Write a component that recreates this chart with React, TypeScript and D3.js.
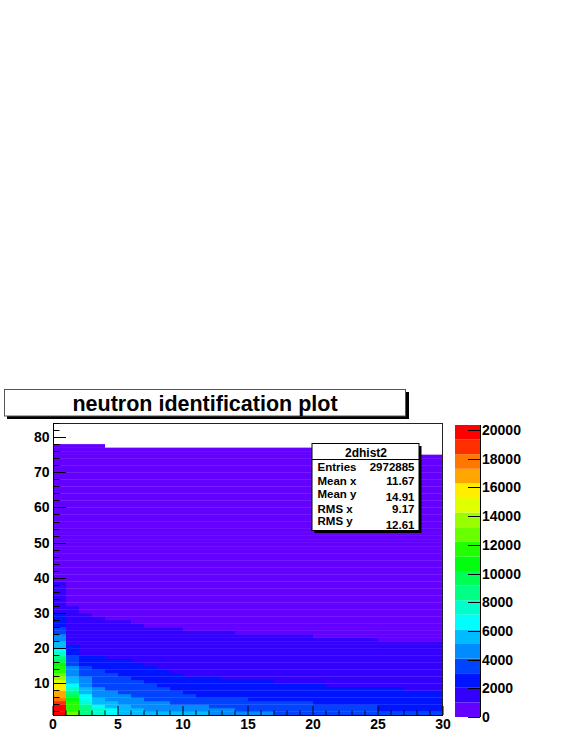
import React from 'react';
import * as d3 from 'd3';

// bin contents per x column (x = 0..29), as runs of [content, upper y edge], starting at y = 1
const columnRuns: [number, number][][] = [
  [[20350, 2], [19900, 3], [19600, 4], [18500, 5], [17500, 6], [16500, 8], [15500, 10], [14500, 11], [13500, 12], [12500, 13], [11500, 15], [10500, 16], [9500, 17], [8500, 18], [7500, 19], [6500, 20], [5500, 22], [4500, 24], [3500, 26], [2500, 30], [1500, 39], [500, 78]],
  [[12500, 2], [11500, 5], [10500, 6], [9500, 7], [8500, 8], [7500, 9], [6500, 10], [5500, 12], [4500, 15], [3500, 18], [2500, 21], [1500, 32], [500, 78]],
  [[8500, 4], [7500, 5], [6500, 7], [5500, 9], [4500, 12], [3500, 15], [2500, 18], [1500, 30], [500, 78]],
  [[7500, 3], [6500, 4], [5500, 6], [4500, 9], [3500, 14], [2500, 18], [1500, 29], [500, 78]],
  [[6500, 3], [5500, 5], [4500, 8], [3500, 13], [2500, 17], [1500, 28], [500, 77]],
  [[5500, 4], [4500, 7], [3500, 12], [2500, 17], [1500, 28], [500, 77]],
  [[5500, 3], [4500, 6], [3500, 11], [2500, 16], [1500, 27], [500, 77]],
  [[5500, 2], [4500, 5], [3500, 10], [2500, 15], [1500, 26], [500, 77]],
  [[5500, 2], [4500, 5], [3500, 9], [2500, 14], [1500, 26], [500, 77]],
  [[5500, 2], [4500, 4], [3500, 8], [2500, 13], [1500, 26], [500, 77]],
  [[5500, 2], [4500, 4], [3500, 7], [2500, 12], [1500, 25], [500, 77]],
  [[5500, 2], [4500, 4], [3500, 6], [2500, 12], [1500, 25], [500, 77]],
  [[4500, 3], [3500, 6], [2500, 12], [1500, 25], [500, 77]],
  [[4500, 3], [3500, 6], [2500, 11], [1500, 25], [500, 77]],
  [[4500, 2], [3500, 6], [2500, 11], [1500, 24], [500, 77]],
  [[4500, 2], [3500, 5], [2500, 11], [1500, 24], [500, 77]],
  [[4500, 2], [3500, 5], [2500, 11], [1500, 24], [500, 77]],
  [[3500, 5], [2500, 10], [1500, 24], [500, 77]],
  [[3500, 5], [2500, 10], [1500, 24], [500, 77]],
  [[3500, 5], [2500, 10], [1500, 24], [500, 77]],
  [[3500, 4], [2500, 10], [1500, 23], [500, 77]],
  [[3500, 4], [2500, 9], [1500, 23], [500, 77]],
  [[3500, 4], [2500, 9], [1500, 23], [500, 77]],
  [[3500, 4], [2500, 9], [1500, 23], [500, 77]],
  [[3500, 4], [2500, 9], [1500, 23], [500, 77]],
  [[3500, 2], [2500, 9], [1500, 22], [500, 77]],
  [[3500, 2], [2500, 9], [1500, 22], [500, 77]],
  [[3500, 2], [2500, 8], [1500, 22], [500, 77]],
  [[3500, 2], [2500, 8], [1500, 22], [500, 75]],
  [[3500, 2], [2500, 8], [1500, 22], [500, 75]],
];

// ROOT "pretty" palette, 20 contour levels
const paletteColors = [
  '#6300ff', '#3300ff', '#0014ff', '#0044ff', '#008bff',
  '#00bbff', '#00fffc', '#00ffcc', '#00ff85', '#00ff55',
  '#00ff0e', '#22ff00', '#69ff00', '#99ff00', '#e0ff00',
  '#ffee00', '#ffa700', '#ff7700', '#ff3000', '#ff0000',
];

const xTicks = [0, 5, 10, 15, 20, 25, 30];
const yTicks = [10, 20, 30, 40, 50, 60, 70, 80];
const zTicks = [0, 2000, 4000, 6000, 8000, 10000, 12000, 14000, 16000, 18000, 20000];

const title = 'neutron identification plot';
const statsName = '2dhist2';
const statsLabels = ['Entries', 'Mean x', 'Mean y', 'RMS x', 'RMS y'];
const statsValues = ['2972885', '11.67', '14.91', '9.17', '12.61'];

const font = "'Liberation Sans', Arial, Helvetica, sans-serif";

export default function App() {
  const width = 581;
  const height = 752;

  const xScale = d3.scaleLinear().domain([0, 30]).range([53, 443]);
  const yScale = d3.scaleLinear().domain([1, 84]).range([715, 423]);

  // expand runs into single bins
  const cells: { x: number; y: number; v: number }[] = [];
  columnRuns.forEach((runs, i) => {
    let y = 1;
    runs.forEach(([v, top]) => {
      for (; y < top; y++) cells.push({ x: i, y, v });
    });
  });

  const zMax = d3.max(cells, d => d.v) as number;
  const nLevels = paletteColors.length;
  const zScale = d3.scaleLinear().domain([0, zMax]).range([717, 425]);
  const colorOf = (v: number) =>
    paletteColors[Math.min(nLevels - 1, Math.floor((v / zMax) * nLevels))];

  const levels = d3.range(nLevels).map(k => ({
    lo: (k * zMax) / nLevels,
    hi: ((k + 1) * zMax) / nLevels,
    color: paletteColors[k],
  }));

  const xMinor = d3.range(0, 31, 1);
  const yMinor = d3.range(2, 85, 2);

  // stats rows: lines holding a "y" sit a little higher in ROOT
  const statsLabelY = [470.5, 485, 497.5, 513, 525];
  const statsValueY = [470.5, 485, 500.5, 513, 529];

  return (
    <svg
      width={width}
      height={height}
      style={{ position: 'absolute', left: 0, top: 0, background: '#fff' }}
      fontFamily={font}
      fontWeight="bold"
    >
      {/* histogram cells, slightly overlapped so only faint seams remain */}
      <g>
        {cells.map((c, k) => (
          <rect
            key={k}
            x={xScale(c.x)}
            y={yScale(c.y + 1)}
            width={xScale(c.x + 1) - xScale(c.x)}
            height={yScale(c.y) - yScale(c.y + 1) + (c.y > 1 ? 0.3 : 0)}
            fill={colorOf(c.v)}
          />
        ))}
      </g>

      {/* frame */}
      <line x1={53} x2={443} y1={423.5} y2={423.5} stroke="#222" />
      <line x1={442.5} x2={442.5} y1={423} y2={715} stroke="#222" />
      <line x1={53.5} x2={53.5} y1={423} y2={716} stroke="#000" />
      <line x1={53} x2={443} y1={715.5} y2={715.5} stroke="#000" />

      {/* x axis ticks */}
      {xMinor.map(t => (
        <line
          key={'xm' + t}
          x1={xScale(t)}
          x2={xScale(t)}
          y1={715}
          y2={xTicks.includes(t) ? 706 : 710.5}
          stroke="#000"
        />
      ))}
      {xTicks.map(t => (
        <text key={'xl' + t} x={xScale(t)} y={729} fontSize={14} textAnchor="middle">
          {t}
        </text>
      ))}

      {/* y axis ticks */}
      {yMinor.map(t => (
        <line
          key={'ym' + t}
          x1={53}
          x2={yTicks.includes(t) ? 66 : 59.5}
          y1={Math.round(yScale(t)) + 0.5}
          y2={Math.round(yScale(t)) + 0.5}
          stroke="#000"
        />
      ))}
      {yTicks.map(t => (
        <text key={'yl' + t} x={49.5} y={yScale(t) + 5} fontSize={14} textAnchor="end">
          {t}
        </text>
      ))}

      {/* palette */}
      {levels.map((l, k) => (
        <rect
          key={'p' + k}
          x={455}
          y={zScale(l.hi)}
          width={25}
          height={zScale(l.lo) - zScale(l.hi)}
          fill={l.color}
        />
      ))}
      <line x1={480.5} x2={480.5} y1={425} y2={717} stroke="#000" />
      {zTicks.map(t => (
        <g key={'z' + t}>
          <line
            x1={468}
            x2={480}
            y1={Math.round(zScale(t)) + 0.5}
            y2={Math.round(zScale(t)) + 0.5}
            stroke="#000"
          />
          <text x={482} y={zScale(t) + 5} fontSize={14}>
            {t}
          </text>
        </g>
      ))}

      {/* title box */}
      <rect x={7} y={392} width={402} height={27} fill="#000" />
      <rect x={4.5} y={389.5} width={401} height={26.5} fill="#fff" stroke="#555" />
      <text x={205} y={410.5} fontSize={21.5} textAnchor="middle">
        {title}
      </text>

      {/* stats box */}
      <rect x={314.5} y={446} width={107} height={87} fill="#000" />
      <rect x={312} y={443.5} width={107} height={87} fill="#fff" stroke="#000" />
      <line x1={312} x2={419} y1={459.5} y2={459.5} stroke="#000" />
      <text x={366} y={456.5} fontSize={12} textAnchor="middle">
        {statsName}
      </text>
      {statsLabels.map((lab, k) => (
        <g key={'s' + k}>
          <text x={317.5} y={statsLabelY[k]} fontSize={11.5}>
            {lab}
          </text>
          <text x={414.5} y={statsValueY[k]} fontSize={11.5} textAnchor="end">
            {statsValues[k]}
          </text>
        </g>
      ))}
    </svg>
  );
}
